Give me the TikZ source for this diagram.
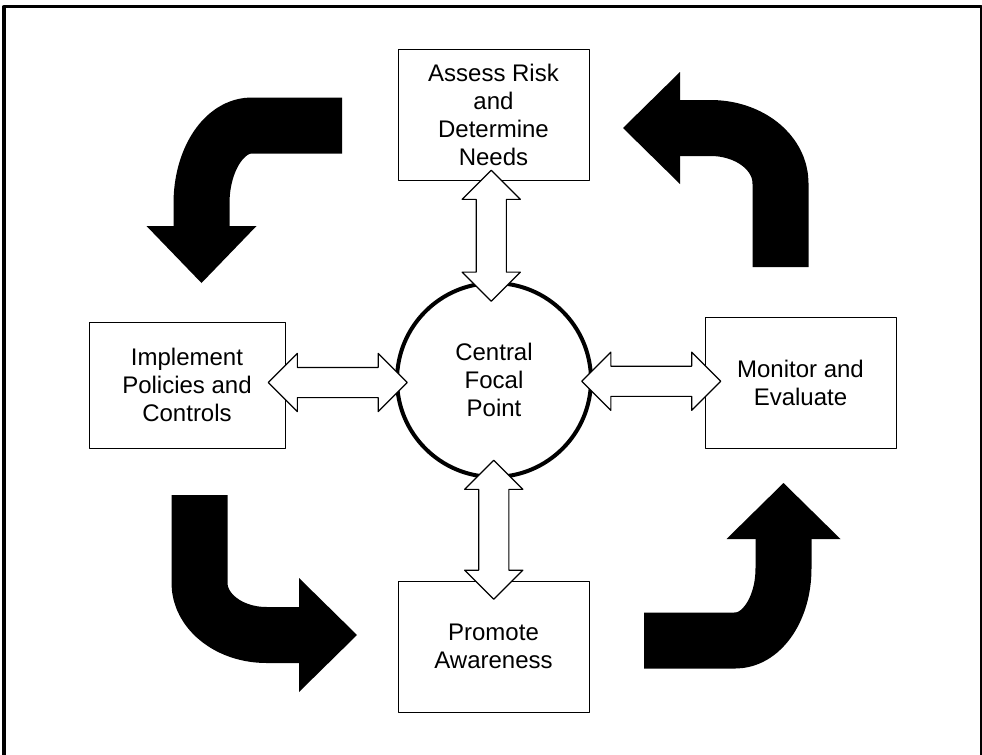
\documentclass[tikz,border=0pt]{standalone}
\usepackage{fontspec}
\setmainfont{Liberation Sans}
\usetikzlibrary{shapes.arrows,calc}

\tikzset{
  stagebox/.style={draw,line width=0.5pt,fill=white,align=center,minimum width=95.5pt,minimum height=65.5pt,inner sep=2pt,font=\fontsize{12}{14}\selectfont},
  focalring/.style={circle,draw,line width=2pt,fill=white,align=center,minimum size=97pt,inner sep=0pt,font=\fontsize{12}{14}\selectfont},
  linkarrow/.style={double arrow,draw,fill=white,line width=0.6pt,inner xsep=0pt,inner ysep=7.25pt,double arrow head extend=7pt,double arrow tip angle=90},
  bendbody/.style={line width=28pt,line cap=butt,line join=round},
}

\begin{document}
\begin{tikzpicture}[line cap=round,line join=round,x=0.5pt,y=-0.5pt]
		\useasboundingbox (0,0) rectangle (982,755);
		\draw [line width=1.5pt,line cap=butt] (4,755) -- (4,6.5) -- (981,6.5) -- (981,755);
		\node[stagebox] (assess) at (493.5,114.5) {Assess Risk\\and\\Determine\\Needs};
		\node[stagebox,minimum width=98pt,minimum height=63pt] (implement) at (187,385) {Implement\\Policies and\\Controls};
		\node[stagebox] (monitor) at (800.5,382.5) {Monitor and\\Evaluate};
		\node[stagebox] (promote) at (493.5,646.5) {Promote\\Awareness};
		\node[focalring] (focal) at (494,380) {Central\\Focal\\Point};
		\node[linkarrow,rotate=90,minimum height=65.5pt] (upLink) at ($(assess.south)!0.5!(focal.north)+(-2.5,5)$) {};
		\node[linkarrow,rotate=90,minimum height=69.5pt] (downLink) at ($(focal.south)!0.5!(promote.north)$) {};
		\node[linkarrow,minimum height=69.5pt] (leftLink) at ($(implement.east)!0.5!(focal.west)+(-2.5,0)$) {};
		\node[linkarrow,minimum height=69.5pt] (rightLink) at ($(focal.east)!0.5!(monitor.west)+(2.5,0)$) {};
		\draw [bendbody] (342,125.5) -- (251.5,125.5) .. controls (223.9,125.5) and (201.5,160.4) .. (201.5,203.5) -- (201.5,227);
		\fill (146.5,226) -- (256.5,226) -- (201.5,283) -- cycle;
		\draw [bendbody] (780.5,267) -- (780.5,183) .. controls (780.5,152.6) and (749.2,128) .. (710.5,128) -- (679,128);
		\fill (680,72) -- (680,184) -- (623,128) -- cycle;
		\draw [bendbody] (199.5,495) -- (199.5,583) .. controls (199.5,611.7) and (229.5,635) .. (266.5,635) -- (300,635);
		\fill (299,578) -- (299,692) -- (357,635) -- cycle;
		\draw [bendbody] (644,640.5) -- (735.5,640.5) .. controls (762,640.5) and (783.5,608.3) .. (783.5,568.5) -- (783.5,538);
		\fill (726.5,539) -- (840.5,539) -- (783.5,483) -- cycle;
	\end{tikzpicture}
\end{document}
